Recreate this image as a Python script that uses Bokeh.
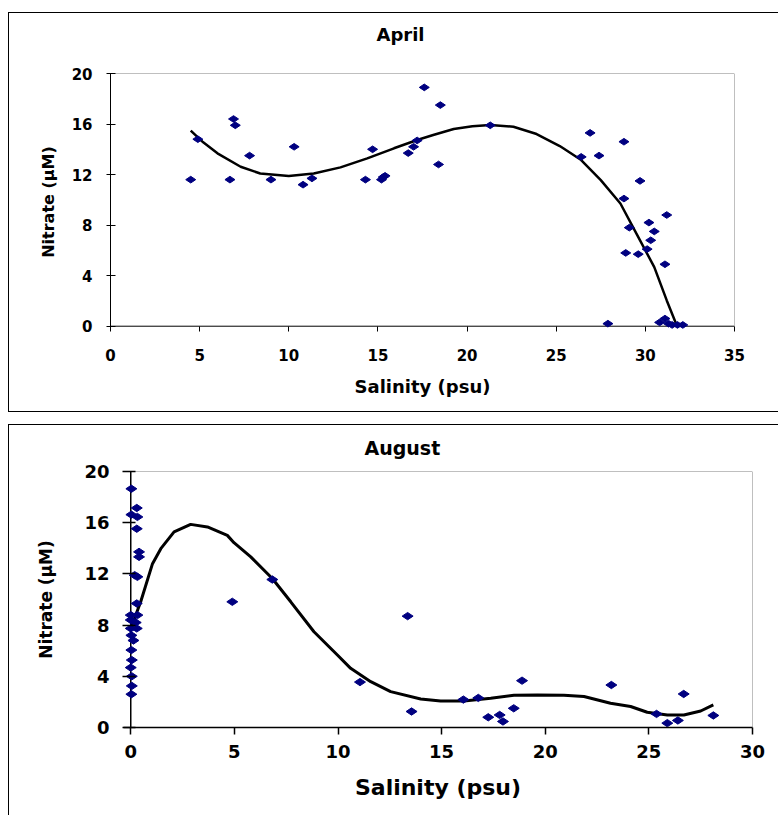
import math
from bokeh.plotting import figure
from bokeh.models import Range1d, FixedTicker, Span, Title
from bokeh.embed import file_html
from bokeh.resources import INLINE

# ---- April survey: nitrate vs salinity ----
april_sal = [4.5, 4.9, 6.9, 7.0, 6.7, 7.8, 9.0, 10.3, 10.8, 11.3, 14.3, 14.7, 15.2, 15.3, 15.4,
             16.7, 17.0, 17.2, 17.6, 18.5, 18.4, 21.3, 26.9, 26.4, 27.4, 28.8, 29.7, 28.8, 29.1,
             31.2, 30.2, 30.5, 30.3, 30.1, 28.9, 29.6, 31.1, 27.9, 30.8, 31.1, 31.3, 31.5, 31.8, 32.1]
april_no3 = [11.6, 14.8, 16.4, 15.9, 11.6, 13.5, 11.6, 14.2, 11.2, 11.7, 11.6, 14.0, 11.6, 11.8, 11.9,
             13.7, 14.2, 14.7, 18.9, 17.5, 12.8, 15.9, 15.3, 13.4, 13.5, 14.6, 11.5, 10.1, 7.8,
             8.8, 8.2, 7.5, 6.8, 6.1, 5.8, 5.7, 4.9, 0.2, 0.3, 0.6, 0.2, 0.1, 0.1, 0.1]
# polynomial trend line
april_trend_sal = [4.5, 5.2, 6.0, 7.3, 8.4, 10.0, 11.4, 12.9, 14.4, 15.9, 17.2, 18.1, 19.25, 20.3,
                   21.3, 22.6, 23.9, 25.2, 26.4, 27.5, 28.6, 29.5, 30.5, 31.2, 31.78]
april_trend_no3 = [15.48, 14.55, 13.68, 12.62, 12.09, 11.88, 12.09, 12.57, 13.28, 14.08, 14.74, 15.13,
                   15.61, 15.82, 15.93, 15.79, 15.21, 14.26, 13.15, 11.56, 9.71, 7.33, 4.68, 2.04, 0.0]
april_xticks = [0, 5, 10, 15, 20, 25, 30, 35]
april_yticks = [0, 4, 8, 12, 16, 20]

# ---- August survey ----
aug_sal = [0.03, 0.29, 0.03, 0.32, 0.29, 0.4, 0.4, 0.19, 0.32, 0.29, 0.0, 0.32, 0.0, 0.24, 0.0, 0.29,
           0.03, 0.13, 0.03, 0.05, 0.0, 0.05, 0.05, 0.03, 4.9, 6.83, 11.06, 13.36, 13.55, 16.05,
           16.77, 17.25, 17.8, 17.96, 18.48, 18.88, 23.19, 25.37, 25.89, 26.4, 26.68, 28.11]
aug_no3 = [18.65, 17.15, 16.63, 16.45, 15.53, 13.72, 13.33, 11.9, 11.77, 9.69, 8.78, 8.78, 8.4, 8.2,
           7.74, 7.74, 7.2, 6.8, 6.05, 5.27, 4.68, 4.0, 3.25, 2.6, 9.82, 11.56, 3.55, 8.70, 1.25,
           2.18, 2.31, 0.8, 0.98, 0.47, 1.5, 3.66, 3.32, 1.06, 0.34, 0.55, 2.62, 0.94]
aug_trend_sal = [0.0, 0.48, 1.05, 1.45, 2.09, 2.89, 3.7, 4.66, 4.98, 5.79, 6.83, 7.72, 8.84, 9.97,
                 10.61, 11.58, 12.54, 13.99, 14.95, 16.08, 17.37, 18.49, 19.62, 20.9, 21.87, 23.15,
                 24.12, 24.92, 25.89, 26.69, 27.5, 28.11]
aug_trend_no3 = [7.74, 9.82, 12.8, 13.97, 15.28, 15.87, 15.67, 15.01, 14.44, 13.33, 11.64, 9.82,
                 7.48, 5.66, 4.62, 3.58, 2.8, 2.23, 2.07, 2.07, 2.28, 2.52, 2.54, 2.52, 2.42, 1.89,
                 1.64, 1.19, 0.98, 0.98, 1.29, 1.76]
aug_xticks = [0, 5, 10, 15, 20, 25, 30]
aug_yticks = [0, 4, 8, 12, 16, 20]

FONT = "DejaVu Sans"
NAVY = "#000080"
GREY = "#808080"


def base_style(p, tick_px, label_px):
    p.grid.visible = False
    p.outline_line_color = None
    p.background_fill_color = "white"
    p.border_fill_color = "white"
    for ax in (p.xaxis[0], p.yaxis[0]):
        ax.axis_line_color = "black"
        ax.major_tick_line_color = "black"
        ax.minor_tick_line_color = None
        ax.major_label_text_font = FONT
        ax.major_label_text_font_style = "bold"
        ax.major_label_text_font_size = tick_px
        ax.major_label_text_color = "black"
        ax.axis_label_text_font = FONT
        ax.axis_label_text_font_style = "bold"
        ax.axis_label_text_font_size = label_px
        ax.axis_label_text_color = "black"


def add_title(p, text, size, gap, offset):
    # blank spacer keeps the heading clear of the plot area
    p.add_layout(Title(text=" ", text_font_size="1px", standoff=gap), "above")
    p.add_layout(Title(text=text, text_font=FONT, text_font_style="bold", text_font_size=size,
                       text_color="black", align="left", offset=offset, standoff=4), "above")


# April panel
p1 = figure(width=770, height=400, x_range=Range1d(0, 35), y_range=Range1d(-0.34, 20),
            output_backend="svg", toolbar_location=None,
            min_border_left=101, min_border_right=45, min_border_top=60, min_border_bottom=83)
base_style(p1, "15px", "18px")
p1.yaxis.axis_label_text_font_size = "16px"
p1.styles = {"border-left": "1px solid black", "border-top": "1px solid black",
             "border-bottom": "1px solid black"}
add_title(p1, "April", "18px", 24, 266)
p1.xaxis.ticker = FixedTicker(ticks=april_xticks)
p1.yaxis.ticker = FixedTicker(ticks=april_yticks)
p1.xaxis.axis_label = "Salinity (psu)"
p1.yaxis.axis_label = "Nitrate (\u03bcM)"
p1.xaxis.axis_line_color = None
p1.xaxis.major_tick_out = 1
p1.xaxis.major_tick_in = 4
p1.yaxis.major_tick_out = 4
p1.yaxis.major_tick_in = 5
p1.xaxis.major_label_standoff = 17
p1.yaxis.major_label_standoff = 14
p1.xaxis.axis_label_standoff = 12
p1.yaxis.axis_label_standoff = 11
p1.add_layout(Span(location=0, dimension="width", line_color="black", line_width=1, level="underlay"))
p1.add_layout(Span(location=20, dimension="width", line_color=GREY, line_width=1, level="underlay"))
p1.add_layout(Span(location=35, dimension="height", line_color=GREY, line_width=1, level="underlay"))
p1.line(april_trend_sal, april_trend_no3, line_color="black", line_width=2.5)
p1.scatter(april_sal, april_no3, marker="diamond", size=10, angle=math.pi / 2,
           fill_color=NAVY, line_color=NAVY)
p1.margin = (12, 0, 0, 8)

# August panel
p2 = figure(width=770, height=391, x_range=Range1d(-0.35, 30), y_range=Range1d(0, 20),
            output_backend="svg", toolbar_location=None,
            min_border_left=114, min_border_right=27, min_border_top=46, min_border_bottom=89)
base_style(p2, "18px", "22px")
p2.styles = {"border-left": "1px solid black", "border-top": "1px solid black"}
add_title(p2, "August", "19px", 8, 241)
p2.xaxis.ticker = FixedTicker(ticks=aug_xticks)
p2.yaxis.ticker = FixedTicker(ticks=aug_yticks)
p2.xaxis.axis_label = "Salinity (psu)"
p2.yaxis.axis_label = "Nitrate (\u03bcM)"
p2.yaxis.axis_label_text_font_size = "17px"
for ax in (p2.xaxis[0], p2.yaxis[0]):
    ax.axis_line_width = 1.5
    ax.major_tick_line_width = 1.5
p2.yaxis.axis_line_color = None
p2.xaxis.major_tick_out = 7
p2.xaxis.major_tick_in = 0
p2.yaxis.major_tick_out = 1
p2.yaxis.major_tick_in = 12
p2.xaxis.major_label_standoff = 10
p2.yaxis.major_label_standoff = 13
p2.xaxis.axis_label_standoff = 14
p2.yaxis.axis_label_standoff = 25
p2.add_layout(Span(location=0, dimension="height", line_color="black", line_width=1.5, level="underlay"))
p2.add_layout(Span(location=20, dimension="width", line_color=GREY, line_width=1, level="underlay"))
p2.add_layout(Span(location=30, dimension="height", line_color=GREY, line_width=1, level="underlay"))
p2.line(aug_trend_sal, aug_trend_no3, line_color="black", line_width=3)
p2.scatter(aug_sal, aug_no3, marker="diamond", size=11, angle=math.pi / 2,
           fill_color=NAVY, line_color=NAVY)
p2.margin = (12, 0, 0, 8)

open("out.html", "w").write(file_html([p1, p2], INLINE))
